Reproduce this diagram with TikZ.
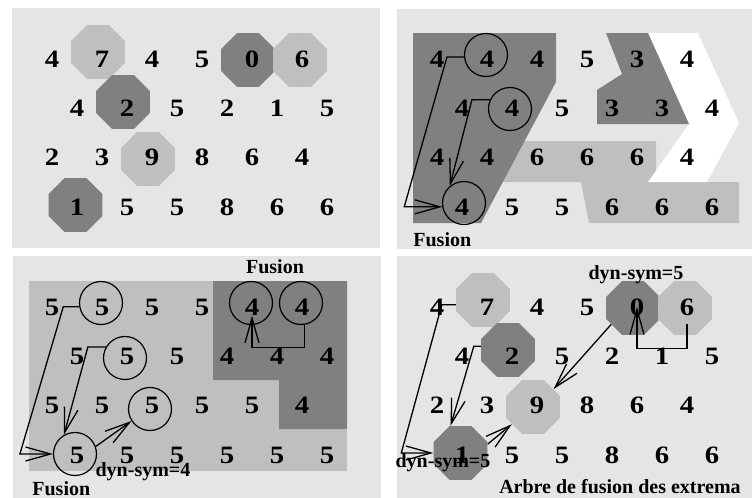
\documentclass[tikz,border=0pt]{standalone}
\usepackage{fontspec}
\setmainfont{Liberation Serif}
\newfontfamily\digitfont[FakeStretch=1.15]{Liberation Serif}
\usepackage{xcolor}
\usepackage{tikz}
\usetikzlibrary{shapes.geometric,arrows.meta,calc}
\definecolor{panelgray}{gray}{0.9}
\definecolor{darkzone}{gray}{0.5}
\definecolor{lightzone}{gray}{0.75}
\tikzset{>=stealth}

\begin{document}
\begin{tikzpicture}[x=0.5pt,y=-0.5pt,
    digit/.style={font=\digitfont\bfseries\fontsize{12.5}{14}\selectfont, inner sep=0pt},
    octa/.style={regular polygon, regular polygon sides=8, minimum size=29pt, inner sep=0pt},
    ring/.style={circle, draw, line width=0.6pt, minimum size=21.5pt, inner sep=0pt},
    fusarrow/.style={line width=0.65pt, -{Straight Barb[length=12.5pt,width=7pt]}},
    lbl/.style={font=\bfseries\fontsize{10}{12}\selectfont, inner sep=0pt}]
  \useasboundingbox (0,0) rectangle (752,498);

  % four panels
  \fill[panelgray] (12,8) rectangle (380,248);
  \fill[panelgray] (397,9) rectangle (752,249);
  \fill[panelgray] (13,256) rectangle (381,498);
  \fill[panelgray] (397,256) rectangle (752,498);

  % zones of the top right panel
  \fill[lightzone] (500,141) -- (656,141) -- (656,182) -- (739,182) -- (739,223) -- (589,223) -- (581,182) -- (500,182) -- cycle;
  \fill[white] (648,33) -- (698,33) -- (739,123) -- (707,182) -- (648,182) -- (689,124) -- cycle;
  \fill[darkzone] (413,33) -- (556,33) -- (556,82) -- (481,223) -- (413,223) -- cycle;
  \fill[darkzone] (606,33) -- (648,33) -- (689,124) -- (597,124) -- (597,90) -- (622,74) -- cycle;

  % zones of the bottom left panel
  \fill[lightzone] (29,281) rectangle (347,471);
  \fill[darkzone] (213,281) -- (347,281) -- (347,429) -- (279,429) -- (279,380) -- (213,380) -- cycle;

  % extrema (top left)
  \node[octa, fill=lightzone] (oa7) at (98,52) {};
  \node[octa, fill=darkzone] (oa0) at (248,60) {};
  \node[octa, fill=lightzone] (oa6) at (300,60) {};
  \node[octa, fill=darkzone] (oa2) at (123,102) {};
  \node[octa, fill=lightzone] (oa9) at (148,159) {};
  \node[octa, fill=darkzone] (oa1) at (75.5,205) {};

  % extrema (bottom right)
  \node[octa, fill=lightzone] (od7) at (483,300) {};
  \node[octa, fill=darkzone] (od0) at (633,308) {};
  \node[octa, fill=lightzone] (od6) at (685,308) {};
  \node[octa, fill=darkzone] (od2) at (508,350) {};
  \node[octa, fill=lightzone] (od9) at (533,407) {};
  \node[octa, fill=darkzone] (od1) at (460.5,453) {};

  % digit grids
  \foreach \r/\vals in {1/{4,7,4,5,0,6},2/{4,2,5,2,1,5},3/{2,3,9,8,6,4},4/{1,5,5,8,6,6}}
    \foreach \v [count=\c] in \vals {
      \node[digit] (a-\r-\c) at ({52+25*(1-mod(\r,2))+50*(\c-1)},{59+49.33*(\r-1)}) {\v};
      \node[digit] (d-\r-\c) at ({437+25*(1-mod(\r,2))+50*(\c-1)},{307+49.33*(\r-1)}) {\v};
    }
  \foreach \r/\vals in {1/{4,4,4,5,3,4},2/{4,4,5,3,3,4},3/{4,4,6,6,6,4},4/{4,5,5,6,6,6}}
    \foreach \v [count=\c] in \vals
      \node[digit] (b-\r-\c) at ({437+25*(1-mod(\r,2))+50*(\c-1)},{59+49.33*(\r-1)}) {\v};
  \foreach \r/\vals in {1/{5,5,5,5,4,4},2/{5,5,5,4,4,4},3/{5,5,5,5,5,4},4/{5,5,5,5,5,5}}
    \foreach \v [count=\c] in \vals
      \node[digit] (c-\r-\c) at ({52+25*(1-mod(\r,2))+50*(\c-1)},{307+49.33*(\r-1)}) {\v};

  % rings
  \node[ring] (cb1) at (486,55) {};
  \node[ring] (cb2) at (510,109) {};
  \node[ring] (cb3) at (464,203) {};
  \node[ring] (cc1) at (101,303) {};
  \node[ring] (cc2) at (251,303) {};
  \node[ring] (cc3) at (301,303) {};
  \node[ring] (cc4) at (125,358) {};
  \node[ring] (cc5) at (150,409) {};
  \node[ring] (cc6) at (75,454) {};

  % fusion arrows
  \draw[fusarrow] (cb1.185) -- ++(-17,0) -- ($(cb3.190)+(-38,0)$) -- (cb3.190);
  \draw[fusarrow] (cb2.155) -- ++(-18,0) -- (cb3.130);

  \draw[fusarrow] (cc1.190) -- ++(-16,0) -- ($(cc6.west)+(-33,0)$) -- (cc6.west);
  \draw[fusarrow] (cc4.150) -- ++(-18,0) -- (cc6.120);
  \draw[fusarrow] (cc6.20) -- (cc5.213);
  \draw[fusarrow] (cc3.-80) -- ++(0,23) -| (c-1-5.south);

  \draw[fusarrow] (od7.190) -- ++(-14,0) -- ($(od1.west)+(-32,0)$) -- (od1.west);
  \draw[fusarrow] (od2.172) -- ++(-7,0) -- (od1.110);
  \draw[fusarrow] (od1.18) -- (od9.219);
  \draw[fusarrow] (od0.217) -- (od9.41);
  \draw[fusarrow] ($(d-1-6.south)+(0,8)$) -- ++(0,25) -| (d-1-5.center);

  % labels
  \node[lbl, anchor=base west] (fusb) at (413,247) {Fusion};
  \node[lbl, anchor=base] (fusctop) at (275,273) {Fusion};
  \node[lbl, anchor=base] (dync) at (143,476) {dyn-sym=4};
  \node[lbl, anchor=base west] (fuscbot) at (32,495) {Fusion};
  \node[lbl, anchor=base] (dyndtop) at (636,279) {dyn-sym=5};
  \node[lbl, anchor=base] (dyndbot) at (443,467) {dyn-sym=5};
  \node[lbl, anchor=base] (arbre) at (620,494) {Arbre de fusion des extrema};
\end{tikzpicture}
\end{document}
